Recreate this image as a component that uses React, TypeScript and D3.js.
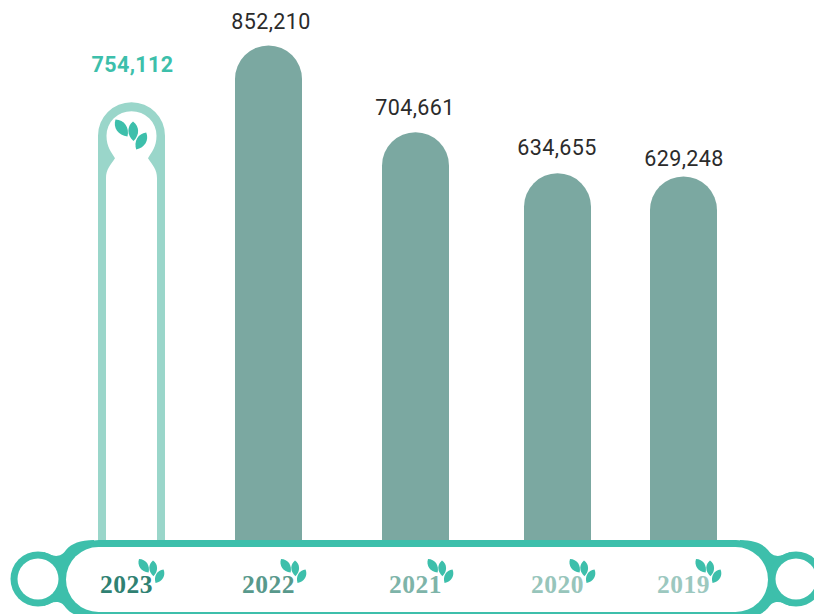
import React from "react";
import * as d3 from "d3";

const years = ["2023", "2022", "2021", "2020", "2019"];
const values = [754112, 852210, 704661, 634655, 629248];
const yearColors = ["#2f8172", "#58998c", "#7eb4a9", "#97c5bb", "#9cc8bf"];

const W = 814, H = 614;
const barW = 67, base = 541;
const centers = [131.5, 268.5, 415.5, 557.5, 683.5];
const labelCenters = [132.5, 271, 415, 557, 684];
const labelGaps = [31, 16.5, 17.5, 18, 10.5];
const yearShift = [-5, 0, 0, 0, 0];
const x = d3.scaleOrdinal<string, number>().domain(years).range(centers);
const y = d3.scaleLinear().domain([629248, 852210]).range([176.5, 45.5]);
const fmt = d3.format(",");

function barPath(cx: number, top: number, w = barW, bottom = base) {
  const p = d3.path();
  const r = w / 2;
  p.moveTo(cx - r, bottom);
  p.lineTo(cx - r, top + r);
  p.arc(cx, top + r, r, Math.PI, 0);
  p.lineTo(cx + r, bottom);
  p.closePath();
  return p.toString();
}

function innerPath(cx: number, top: number) {
  const t = top;
  return `M${cx - 25.5},${base} L${cx - 25.5},${t + 76}
    C${cx - 25.5},${t + 67} ${cx - 21},${t + 63} ${cx - 16.5},${t + 56}
    C${cx - 20},${t + 50} ${cx - 25},${t + 45} ${cx - 25},${t + 33.5}
    A25,24.5 0 0 1 ${cx + 25},${t + 33.5}
    C${cx + 25},${t + 45} ${cx + 20},${t + 50} ${cx + 16.5},${t + 56}
    C${cx + 21},${t + 63} ${cx + 25.5},${t + 67} ${cx + 25.5},${t + 76}
    L${cx + 25.5},${base} Z`;
}

const leafShape = (x0: number, y0: number, x1: number, y1: number, w: number) => {
  const dx = x1 - x0, dy = y1 - y0, L = Math.hypot(dx, dy);
  const nx = -dy / L, ny = dx / L;
  const a = (t: number, s: number) => `${x0 + dx * t + nx * s},${y0 + dy * t + ny * s}`;
  return `M${x0},${y0} C${a(0.25, w)} ${a(0.7, w)} ${x1},${y1} C${a(0.7, -w)} ${a(0.25, -w)} ${x0},${y0} Z`;
};

function Sprout({ tx, ty, s, fill }: { tx: number; ty: number; s: number; fill: string }) {
  return (
    <g transform={`translate(${tx},${ty}) scale(${s})`} fill={fill}>
      <path d={leafShape(0, 0, 12, 17, 7)} />
      <path d={leafShape(17.5, 2, 18, 21.5, 6.5)} />
      <path d={leafShape(30.7, 13, 20.7, 30, 6.5)} />
    </g>
  );
}

export default function App() {
  const teal = "#3dbfab";
  return (
    <svg width={W} height={H} viewBox={`0 0 ${W} ${H}`} style={{ position: "fixed", left: 0, top: 0, background: "#fff" }}>
      {years.map((yr, i) => {
        const cx = x(yr);
        const top = y(values[i]);
        if (i === 0) {
          return (
            <g key={yr}>
              <path d={barPath(cx, top - 1) + innerPath(cx, top - 1)} fill="#9ad6ca" fillRule="evenodd" />
              <Sprout tx={115.5} ty={119.5} s={1} fill={teal} />
            </g>
          );
        }
        return <path key={yr} d={barPath(cx, top)} fill="#7ba8a1" />;
      })}
      {years.map((yr, i) => (
        <text key={yr} x={labelCenters[i]} y={y(values[i]) - labelGaps[i]} textAnchor="middle"
          fontFamily="Roboto, sans-serif" fontSize={21.5} fontWeight={i === 0 ? 700 : 400}
          letterSpacing={0.4} fill={i === 0 ? teal : "#2b2b2b"}>
          {fmt(values[i])}
        </text>
      ))}

      <rect x={59} y={540} width={717} height={80} rx={40} fill={teal} />
      <path d="M44,552 C52,556 60,559 66,550 C72,543 80,540.5 94,540 L94,618 C80,617.5 72,615 66,608 C60,599 52,602 44,606 Z" fill={teal} />
      <path d="M790,552 C782,556 774,559 768,550 C762,543 754,540.5 740,540 L740,618 C754,617.5 762,615 768,608 C774,599 782,602 790,606 Z" fill={teal} />
      <circle cx={38} cy={579} r={27.5} fill={teal} />
      <circle cx={796} cy={579} r={27.5} fill={teal} />
      <circle cx={38} cy={579} r={20.5} fill="#fff" />
      <circle cx={796} cy={579} r={20.5} fill="#fff" />
      <rect x={66} y={547} width={702} height={65} rx={32.5} fill="#fff" />

      {years.map((yr, i) => {
        const cx = x(yr) + yearShift[i];
        return (
          <g key={yr}>
            <text x={cx} y={592.5} textAnchor="middle" fontFamily="'Liberation Serif', serif" fontWeight={700}
              fontSize={25.5} letterSpacing={0.5} fill={yearColors[i]}>{yr}</text>
            <Sprout tx={cx + 12.5} ty={559} s={0.8} fill={teal} />
          </g>
        );
      })}
    </svg>
  );
}
